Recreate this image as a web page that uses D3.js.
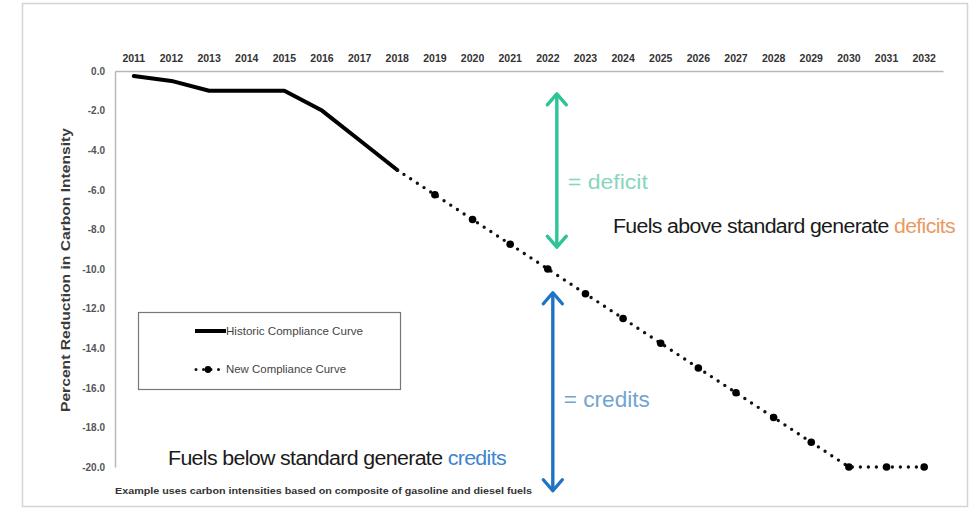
<!DOCTYPE html>
<html>
<head>
<meta charset="utf-8">
<script src="https://cdn.jsdelivr.net/npm/d3@7"></script>
<style>
  html, body { margin: 0; padding: 0; background: #fff; }
  svg { display: block; }
</style>
</head>
<body>
<svg id="chart" width="972" height="509"></svg>
<script>
// Compliance years shown along the top axis
const years = ["2011","2012","2013","2014","2015","2016","2017","2018","2019","2020","2021",
               "2022","2023","2024","2025","2026","2027","2028","2029","2030","2031","2032"];

// Historic compliance curve (percent reduction in carbon intensity)
const historicYears = ["2011","2012","2013","2014","2015","2016","2017","2018"];
const historicValues = [-0.25, -0.5, -1.0, -1.0, -1.0, -2.0, -3.5, -5.0];

// New compliance curve
const newYears = ["2018","2019","2020","2021","2022","2023","2024","2025","2026",
                  "2027","2028","2029","2030","2031","2032"];
const newValues = [-5.0, -6.25, -7.5, -8.75, -10.0, -11.25, -12.5, -13.75, -15.0,
                   -16.25, -17.5, -18.75, -20.0, -20.0, -20.0];

// Y axis ticks
const yTicks = [0, -2, -4, -6, -8, -10, -12, -14, -16, -18, -20];

const svg = d3.select("#chart");
const narrow = "'Liberation Sans Narrow', 'Arial Narrow', 'Liberation Sans', Arial, sans-serif";
const plain = "'Liberation Sans', Arial, sans-serif";

// outer frame
svg.append("rect")
  .attr("x", 22.5).attr("y", 3.5).attr("width", 945).attr("height", 503)
  .attr("fill", "#fff").attr("stroke", "#d4d4d4").attr("stroke-width", 1.5);

const x = d3.scaleBand().domain(years).range([115, 943]);
const y = d3.scaleLinear().domain([0, -20]).range([71, 467]);
const cx = d => x(d) + x.bandwidth() / 2;

// top category axis
const xAxis = svg.append("g").attr("transform", "translate(0,71)")
  .call(d3.axisTop(x).tickSize(0).tickPadding(9));
xAxis.select(".domain").attr("stroke", "#b8b8b8").attr("stroke-width", 1.5);
xAxis.selectAll("text")
  .attr("font-family", narrow).attr("font-weight", "bold")
  .attr("font-size", 10.5).attr("fill", "#333");

// left value axis
const fmt = v => (v === 0 ? "0.0" : v.toFixed(1));
const yAxis = svg.append("g").attr("transform", "translate(115,0)")
  .call(d3.axisLeft(y).tickValues(yTicks).tickFormat(fmt).tickSize(0).tickPadding(10));
yAxis.select(".domain").attr("stroke", "#b8b8b8").attr("stroke-width", 1.5);
yAxis.selectAll("text")
  .attr("font-family", narrow).attr("font-weight", "bold")
  .attr("font-size", 10).attr("fill", "#555");

// y axis title
svg.append("text")
  .attr("transform", "translate(70,270) rotate(-90)")
  .attr("text-anchor", "middle")
  .attr("font-family", plain).attr("font-weight", "bold")
  .attr("font-size", 13).attr("fill", "#3a3a3a")
  .attr("textLength", 284).attr("lengthAdjust", "spacingAndGlyphs")
  .text("Percent Reduction in Carbon Intensity");

// historic curve
const historic = historicYears.map((d, i) => ({ year: d, value: historicValues[i] }));
const line = d3.line().x(d => cx(d.year)).y(d => y(d.value));
svg.append("path")
  .attr("d", line(historic))
  .attr("fill", "none").attr("stroke", "#000")
  .attr("stroke-width", 4).attr("stroke-linejoin", "round").attr("stroke-linecap", "round");

// new curve: dotted line with a marker at each year
const newer = newYears.map((d, i) => ({ year: d, value: newValues[i] }));
svg.append("path")
  .attr("d", line(newer))
  .attr("fill", "none").attr("stroke", "#111")
  .attr("stroke-width", 3.4).attr("stroke-linecap", "round")
  .attr("stroke-dasharray", "0 8");
svg.append("g").selectAll("circle")
  .data(newer.slice(1))
  .join("circle")
  .attr("cx", d => cx(d.year)).attr("cy", d => y(d.value))
  .attr("r", 3.8).attr("fill", "#000");

// legend
const lg = svg.append("g");
lg.append("rect")
  .attr("x", 138.5).attr("y", 312.5).attr("width", 262).attr("height", 77)
  .attr("fill", "#fff").attr("stroke", "#777").attr("stroke-width", 1.2);
lg.append("line")
  .attr("x1", 195).attr("x2", 226).attr("y1", 331).attr("y2", 331)
  .attr("stroke", "#000").attr("stroke-width", 4);
lg.append("text")
  .attr("x", 226).attr("y", 334.5)
  .attr("font-family", narrow).attr("font-size", 10.5).attr("fill", "#444")
  .attr("textLength", 137).attr("lengthAdjust", "spacingAndGlyphs")
  .text("Historic Compliance Curve");
lg.append("line")
  .attr("x1", 196).attr("x2", 219).attr("y1", 369.5).attr("y2", 369.5)
  .attr("stroke", "#111").attr("stroke-width", 3).attr("stroke-linecap", "round")
  .attr("stroke-dasharray", "0 7.5");
lg.append("circle").attr("cx", 208).attr("cy", 369.5).attr("r", 3.4).attr("fill", "#000");
lg.append("text")
  .attr("x", 226).attr("y", 373)
  .attr("font-family", narrow).attr("font-size", 10.5).attr("fill", "#444")
  .attr("textLength", 120).attr("lengthAdjust", "spacingAndGlyphs")
  .text("New Compliance Curve");

// double-headed arrows
function arrow(xPos, yTop, yBot, color) {
  const g = svg.append("g").attr("stroke", color).attr("fill", "none")
    .attr("stroke-width", 3.4).attr("stroke-linecap", "round").attr("stroke-linejoin", "round");
  g.append("line").attr("x1", xPos).attr("x2", xPos).attr("y1", yTop + 1).attr("y2", yBot - 1);
  g.append("path").attr("d", `M${xPos - 9.5},${yTop + 11} L${xPos},${yTop} L${xPos + 9.5},${yTop + 11}`);
  g.append("path").attr("d", `M${xPos - 9.5},${yBot - 11} L${xPos},${yBot} L${xPos + 9.5},${yBot - 11}`);
}
const arrowX = cx("2022") + 9;
arrow(arrowX, y(-1.15), y(-8.9), "#2ec497");
arrow(arrowX - 4, y(-11.2), y(-21.2), "#1f73c4");

svg.append("text")
  .attr("x", arrowX + 11).attr("y", y(-5.95))
  .attr("font-family", plain).attr("font-size", 21).attr("fill", "#86d6be")
  .attr("textLength", 80).attr("lengthAdjust", "spacingAndGlyphs")
  .text("= deficit");
svg.append("text")
  .attr("x", arrowX + 7).attr("y", y(-16.95))
  .attr("font-family", plain).attr("font-size", 22).attr("fill", "#74a3d3")
  .attr("textLength", 86).attr("lengthAdjust", "spacingAndGlyphs")
  .text("= credits");

// explanatory statements
const above = svg.append("text")
  .attr("x", 613).attr("y", 233)
  .attr("font-family", plain).attr("font-size", 19.5).attr("fill", "#1a1a1a")
  .attr("letter-spacing", -0.6)
  .attr("textLength", 342).attr("lengthAdjust", "spacingAndGlyphs");
above.append("tspan").text("Fuels above standard generate ");
above.append("tspan").attr("fill", "#e99a62").text("deficits");

const below = svg.append("text")
  .attr("x", 168).attr("y", 465)
  .attr("font-family", plain).attr("font-size", 19.5).attr("fill", "#1a1a1a")
  .attr("letter-spacing", -0.6)
  .attr("textLength", 338).attr("lengthAdjust", "spacingAndGlyphs");
below.append("tspan").text("Fuels below standard generate ");
below.append("tspan").attr("fill", "#3d85cf").text("credits");

// footnote
svg.append("text")
  .attr("x", 115).attr("y", 494)
  .attr("font-family", narrow).attr("font-weight", "bold")
  .attr("font-size", 9.5).attr("fill", "#333")
  .attr("textLength", 417).attr("lengthAdjust", "spacingAndGlyphs")
  .text("Example uses carbon intensities based on composite of gasoline and diesel fuels");
</script>
</body>
</html>
